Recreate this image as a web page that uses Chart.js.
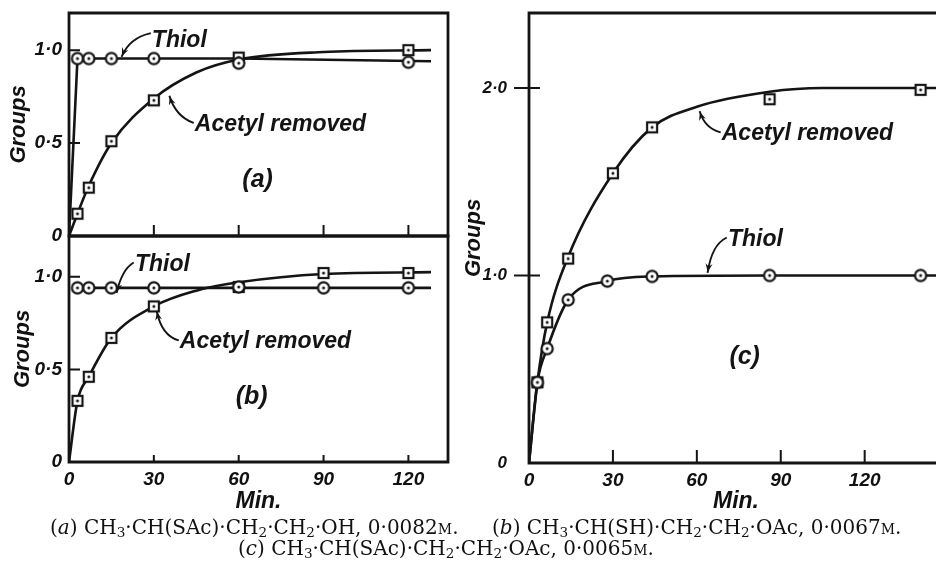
<!DOCTYPE html>
<html>
<head>
<meta charset="utf-8">
<script src="https://cdn.jsdelivr.net/npm/chart.js@4.4.1/dist/chart.umd.min.js"></script>
<style>
  html, body { margin: 0; padding: 0; background: #fff; }
  body { width: 936px; height: 563px; overflow: hidden; position: relative; }
  canvas { position: absolute; }
  #chart-a { left: 0; top: 0; }
  #chart-b { left: 0; top: 226px; }
  #chart-c { left: 450px; top: 0; }
  .cap {
    position: absolute; white-space: pre; color: #111;
    font-family: "DejaVu Serif", "Liberation Serif", serif; font-size: 20px; line-height: 20px;
  }
  .cap sub { font-size: 0.68em; vertical-align: -0.22em; line-height: 0; }
  .cap i { font-style: italic; }
  .sc { font-variant: small-caps; }
</style>
</head>
<body>
<canvas id="chart-a" width="470" height="250"></canvas>
<canvas id="chart-b" width="470" height="290"></canvas>
<canvas id="chart-c" width="500" height="516"></canvas>

<div class="cap" style="left:50px; top:517px">(<i>a</i>) CH<sub>3</sub>·CH(SAc)·CH<sub>2</sub>·CH<sub>2</sub>·OH, 0·0082<span class="sc">m</span>.</div>
<div class="cap" style="left:492px; top:517px">(<i>b</i>) CH<sub>3</sub>·CH(SH)·CH<sub>2</sub>·CH<sub>2</sub>·OAc, 0·0067<span class="sc">m</span>.</div>
<div class="cap" style="left:238px; top:538px">(<i>c</i>) CH<sub>3</sub>·CH(SAc)·CH<sub>2</sub>·CH<sub>2</sub>·OAc, 0·0065<span class="sc">m</span>.</div>

<script>
Chart.defaults.font.family = '"Liberation Sans", Arial, sans-serif';
Chart.defaults.color = "#111";

const INK = "#141414";

// (a) CH3.CH(SAc).CH2.CH2.OH
const timeA = [3, 7, 15, 30, 60, 120];
const thiolA = [0.955, 0.955, 0.955, 0.955, 0.93, 0.935];
const acetylA = [0.12, 0.26, 0.51, 0.73, 0.96, 1.0];
const thiolCurveTimeA = [0, 3, 60, 128];
const thiolCurveA = [0, 0.955, 0.955, 0.94];
const acetylCurveTimeA = [0, 3, 7, 15, 30, 45, 60, 90, 128];
const acetylCurveA = [0, 0.12, 0.27, 0.5, 0.74, 0.88, 0.95, 0.99, 1.0];

// (b) CH3.CH(SH).CH2.CH2.OAc
const timeB = [3, 7, 15, 30, 60, 90, 120];
const thiolB = [0.94, 0.94, 0.94, 0.94, 0.945, 0.94, 0.94];
const acetylB = [0.33, 0.46, 0.67, 0.84, 0.945, 1.02, 1.02];
const thiolCurveTimeB = [3, 128];
const thiolCurveB = [0.94, 0.94];
const acetylCurveTimeB = [0, 3, 7, 15, 30, 45, 60, 90, 128];
const acetylCurveB = [0, 0.33, 0.46, 0.67, 0.84, 0.925, 0.97, 1.015, 1.025];

// (c) CH3.CH(SAc).CH2.CH2.OAc
const thiolTimeC = [3, 6.5, 14, 28, 44, 86, 140];
const thiolC = [0.43, 0.61, 0.87, 0.97, 0.995, 1.0, 1.0];
const acetylTimeC = [3, 6.5, 14, 30, 44, 86, 140];
const acetylC = [0.43, 0.75, 1.09, 1.545, 1.79, 1.94, 1.99];
const thiolCurveTimeC = [0, 3, 6.5, 14, 28, 44, 86, 146];
const thiolCurveC = [0, 0.43, 0.61, 0.87, 0.97, 0.995, 1.0, 1.0];
const acetylCurveTimeC = [0, 3, 6.5, 14, 30, 44, 60, 86, 105, 146];
const acetylCurveC = [0, 0.43, 0.75, 1.1, 1.545, 1.79, 1.9, 1.98, 2.0, 2.0];

// axis ticks
const minuteTicks = [0, 30, 60, 90, 120];
const groupTicksAB = [0, 0.5, 1.0];
const groupLabelsAB = ["0", "0·5", "1·0"];
const groupTicksC = [0, 1.0, 2.0];
const groupLabelsC = ["0", "1·0", "2·0"];

const pts = (xs, ys) => xs.map((x, i) => ({ x, y: ys[i] }));

// marker images: open circle / open square with a dot in the middle
function marker(kind) {
  const c = document.createElement("canvas");
  c.width = c.height = 16;
  const g = c.getContext("2d");
  g.fillStyle = "#fff";
  g.strokeStyle = INK;
  g.lineWidth = 2.2;
  if (kind === "circle") {
    g.beginPath();
    g.arc(8, 8, 5.6, 0, Math.PI * 2);
    g.fill();
    g.stroke();
  } else {
    g.fillRect(3, 3, 10, 10);
    g.strokeRect(3, 3, 10, 10);
  }
  g.fillStyle = INK;
  g.beginPath();
  g.arc(8, 8, 1.5, 0, Math.PI * 2);
  g.fill();
  return c;
}
const CIRCLE = marker("circle");
const SQUARE = marker("square");

const tickFont = { size: 19, style: "italic", weight: "bold" };
const noteFont = "italic bold 23px 'Liberation Sans', Arial, sans-serif";
const panelFont = "italic bold 25px 'Liberation Sans', Arial, sans-serif";

function curve(data, smooth) {
  return {
    data,
    showLine: true,
    borderColor: INK,
    borderWidth: 2.6,
    pointRadius: 0,
    tension: smooth ? 0.4 : 0,
    cubicInterpolationMode: smooth ? "monotone" : "default",
  };
}

function marks(data, style) {
  return {
    data,
    showLine: false,
    pointStyle: style,
    pointRadius: 6,
    pointHoverRadius: 6,
  };
}

// frame, inward tick marks and the hand-lettered notes
function decorations(cfg) {
  return {
    id: "decorations",
    afterDraw(chart) {
      const { ctx, chartArea: a, scales } = chart;
      const X = (v) => scales.x.getPixelForValue(v);
      const Y = (v) => scales.y.getPixelForValue(v);
      ctx.save();
      ctx.strokeStyle = INK;
      ctx.fillStyle = INK;
      ctx.lineCap = "square";

      // frame
      ctx.lineWidth = 2.8;
      ctx.beginPath();
      ctx.moveTo(a.left, a.top);
      ctx.lineTo(a.left, a.bottom);
      ctx.lineTo(a.right, a.bottom);
      if (cfg.rightSide) {
        ctx.lineTo(a.right, a.top);
      } else {
        ctx.moveTo(a.right + 10, a.top);
      }
      ctx.lineTo(a.left, a.top);
      ctx.stroke();

      // tick marks
      ctx.lineWidth = 2;
      ctx.beginPath();
      cfg.xMarks.forEach((v) => {
        ctx.moveTo(X(v), a.bottom);
        ctx.lineTo(X(v), a.bottom - cfg.xMarkLen);
      });
      cfg.yMarks.forEach((v) => {
        ctx.moveTo(a.left - cfg.yMarkOut, Y(v));
        ctx.lineTo(a.left + cfg.yMarkIn, Y(v));
      });
      ctx.stroke();

      // notes
      ctx.textBaseline = "middle";
      cfg.notes.forEach((n) => {
        ctx.font = n.font || noteFont;
        ctx.textAlign = n.align || "left";
        ctx.fillText(n.text, X(n.at[0]), Y(n.at[1]));
      });

      // curved arrows
      ctx.lineWidth = 1.9;
      cfg.arrows.forEach((r) => {
        const p0 = [X(r.from[0]), Y(r.from[1])];
        const p1 = [X(r.via[0]), Y(r.via[1])];
        const p2 = [X(r.to[0]), Y(r.to[1])];
        ctx.beginPath();
        ctx.moveTo(p0[0], p0[1]);
        ctx.quadraticCurveTo(p1[0], p1[1], p2[0], p2[1]);
        ctx.stroke();
        const ang = Math.atan2(p2[1] - p1[1], p2[0] - p1[0]);
        const len = 9;
        ctx.beginPath();
        ctx.moveTo(p2[0], p2[1]);
        ctx.lineTo(p2[0] - len * Math.cos(ang - 0.4), p2[1] - len * Math.sin(ang - 0.4));
        ctx.lineTo(p2[0] - len * 0.6 * Math.cos(ang), p2[1] - len * 0.6 * Math.sin(ang));
        ctx.lineTo(p2[0] - len * Math.cos(ang + 0.4), p2[1] - len * Math.sin(ang + 0.4));
        ctx.closePath();
        ctx.fill();
      });
      ctx.restore();
    },
  };
}

function panel(id, cfg) {
  const CANVAS = document.getElementById(id);
  const CONFIG = {
    type: "scatter",
    data: {
      datasets: [
        marks(cfg.thiol, CIRCLE),
        marks(cfg.acetyl, SQUARE),
        curve(cfg.thiolCurve, cfg.thiolSmooth),
        curve(cfg.acetylCurve, true),
      ],
    },
    options: {
      responsive: false,
      animation: false,
      events: [],
      layout: { padding: { top: cfg.padTop, right: cfg.padRight, bottom: 0, left: 0 } },
      plugins: {
        legend: { display: false },
        tooltip: { enabled: false },
      },
      scales: {
        x: {
          type: "linear",
          min: 0,
          max: cfg.xMax,
          grid: { display: false, drawTicks: false },
          border: { display: false },
          afterBuildTicks: (s) => {
            s.ticks = minuteTicks.map((v) => ({ value: v }));
          },
          ticks: {
            display: cfg.xLabels,
            padding: 6,
            maxRotation: 0,
            font: tickFont,
            callback: (v) => String(v),
          },
          title: {
            display: cfg.xLabels,
            text: "Min.",
            font: { size: 23, style: "italic", weight: "bold" },
            padding: { top: 0, bottom: 1 },
          },
          afterFit: (s) => {
            s.height = cfg.xHeight;
            s.paddingLeft = 0;
            s.paddingRight = 0;
          },
        },
        y: {
          type: "linear",
          min: 0,
          max: cfg.yMax,
          grid: { display: false, drawTicks: false },
          border: { display: false },
          afterBuildTicks: (s) => {
            s.ticks = cfg.yTicks.map((v) => ({ value: v }));
          },
          ticks: {
            padding: cfg.yLabelPad,
            font: cfg.yFont || tickFont,
            callback: (v, i) => cfg.yLabels[i],
          },
          title: {
            display: true,
            text: "Groups",
            font: { size: 22, style: "italic", weight: "bold" },
            padding: { top: cfg.titlePad, bottom: 0 },
          },
          afterFit: (s) => {
            s.width = cfg.yWidth;
            s.paddingTop = 0;
            s.paddingBottom = 0;
          },
        },
      },
    },
    plugins: [decorations(cfg)],
  };
  return new Chart(CANVAS, CONFIG);
}

panel("chart-a", {
  thiol: pts(timeA, thiolA),
  acetyl: pts(timeA, acetylA),
  thiolCurve: pts(thiolCurveTimeA, thiolCurveA),
  thiolSmooth: false,
  acetylCurve: pts(acetylCurveTimeA, acetylCurveA),
  xMax: 134, yMax: 1.2,
  yTicks: groupTicksAB, yLabels: groupLabelsAB,
  padTop: 13, padRight: 22, yWidth: 69, xHeight: 14,
  xLabels: false, yLabelPad: 7, titlePad: 6,
  rightSide: true,
  xMarks: [30, 60, 90, 120], xMarkLen: 10,
  yMarks: [0.5, 1.0], yMarkOut: 0, yMarkIn: 10,
  notes: [
    { text: "Thiol", at: [29.3, 1.05] },
    { text: "Acetyl removed", at: [44.5, 0.6] },
    { text: "(a)", at: [66.7, 0.3], align: "center", font: panelFont },
  ],
  arrows: [
    { from: [28.6, 1.09], via: [21.5, 1.065], to: [18.7, 0.968] },
    { from: [43.8, 0.61], via: [37.8, 0.645], to: [35.6, 0.75] },
  ],
});

panel("chart-b", {
  thiol: pts(timeB, thiolB),
  acetyl: pts(timeB, acetylB),
  thiolCurve: pts(thiolCurveTimeB, thiolCurveB),
  thiolSmooth: false,
  acetylCurve: pts(acetylCurveTimeB, acetylCurveB),
  xMax: 134, yMax: 1.22,
  yTicks: groupTicksAB, yLabels: groupLabelsAB,
  padTop: 10, padRight: 22, yWidth: 69, xHeight: 54,
  xLabels: true, yLabelPad: 7, titlePad: 10,
  rightSide: true,
  xMarks: [30, 60, 90, 120], xMarkLen: 6,
  yMarks: [0.5, 1.0], yMarkOut: 0, yMarkIn: 10,
  notes: [
    { text: "Thiol", at: [23.3, 1.063] },
    { text: "Acetyl removed", at: [39.2, 0.648] },
    { text: "(b)", at: [64.6, 0.35], align: "center", font: panelFont },
  ],
  arrows: [
    { from: [22.6, 1.074], via: [18.7, 1.036], to: [16.9, 0.917] },
    { from: [38.5, 0.658], via: [32.8, 0.685], to: [31.1, 0.81] },
  ],
});

panel("chart-c", {
  thiol: pts(thiolTimeC, thiolC),
  acetyl: pts(acetylTimeC, acetylC),
  thiolCurve: pts(thiolCurveTimeC, thiolCurveC),
  thiolSmooth: true,
  acetylCurve: pts(acetylCurveTimeC, acetylCurveC),
  xMax: 148, yMax: 2.4,
  yTicks: groupTicksC, yLabels: groupLabelsC,
  yFont: { size: 17, style: "italic", weight: "bold" },
  padTop: 13, padRight: 7, yWidth: 79, xHeight: 53,
  xLabels: true, yLabelPad: 22, titlePad: 11,
  rightSide: false,
  xMarks: [30, 60, 90, 120], xMarkLen: 12,
  yMarks: [1.0, 2.0], yMarkOut: 14, yMarkIn: 10,
  notes: [
    { text: "Acetyl removed", at: [68.9, 1.755] },
    { text: "Thiol", at: [71.1, 1.19] },
    { text: "(c)", at: [77.1, 0.565], align: "center", font: panelFont },
  ],
  arrows: [
    { from: [68.2, 1.765], via: [62.9, 1.787], to: [61.1, 1.872] },
    { from: [70.4, 1.2], via: [65.4, 1.163], to: [63.9, 1.019] },
  ],
});
</script>
</body>
</html>
